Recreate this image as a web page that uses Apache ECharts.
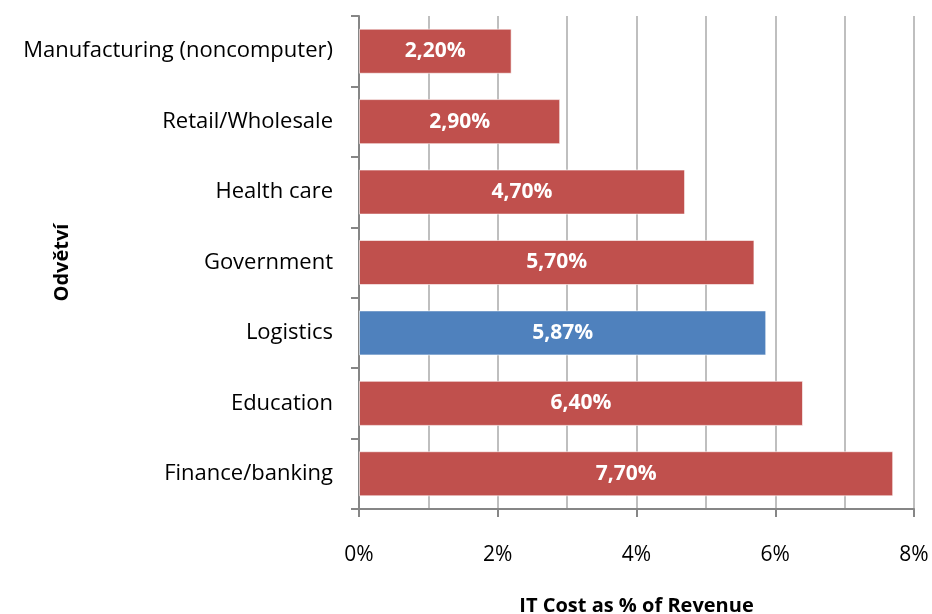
<!DOCTYPE html>
<html>
<head>
<meta charset="utf-8">
<script src="https://cdn.jsdelivr.net/npm/echarts@6/dist/echarts.min.js"></script>
<style>
  html, body { margin: 0; padding: 0; background: #fff; }
  #chart { width: 932px; height: 614px; }
</style>
</head>
<body>
<div id="chart"></div>
<script>
// Industries, top to bottom
const categories = [
  'Manufacturing (noncomputer)',
  'Retail/Wholesale',
  'Health care',
  'Government',
  'Logistics',
  'Education',
  'Finance/banking'
];
// IT cost as a percentage of revenue
const values = [2.20, 2.90, 4.70, 5.70, 5.87, 6.40, 7.70];
// The highlighted industry
const highlight = 'Logistics';
const xTicks = [0, 2, 4, 6, 8];

const RED = '#C0504D';
const BLUE = '#4F81BD';
const FONT = '"Open Sans", Lato, sans-serif';

const chart = echarts.init(document.getElementById('chart'), null, { renderer: 'canvas' });

chart.setOption({
  animation: false,
  grid: {
    left: 359, right: 18, top: 16, bottom: 105,
    containLabel: false,
    outerBoundsMode: 'none'
  },
  xAxis: {
    type: 'value',
    min: xTicks[0],
    max: xTicks[xTicks.length - 1],
    interval: xTicks[1] - xTicks[0],
    name: 'IT Cost as % of Revenue',
    nameLocation: 'middle',
    nameGap: 87,
    nameMoveOverlap: false,
    nameTextStyle: { fontFamily: FONT, fontSize: 20, fontWeight: 'bold', color: '#000' },
    axisLine: { show: true, lineStyle: { color: '#868686', width: 2 } },
    axisTick: { show: true, length: 8, lineStyle: { color: '#868686', width: 2 } },
    axisLabel: {
      margin: 36,
      fontFamily: FONT, fontSize: 21, color: '#000',
      formatter: v => v + '%'
    },
    splitLine: { show: true, lineStyle: { color: '#BFBFBF', width: 2 } },
    minorTick: { show: false, splitNumber: 2 },
    minorSplitLine: { show: true, lineStyle: { color: '#BFBFBF', width: 2 } }
  },
  yAxis: {
    type: 'category',
    data: categories,
    inverse: true,
    name: 'Odvětví',
    nameLocation: 'middle',
    nameGap: 287,
    nameMoveOverlap: false,
    nameRotate: 90,
    nameTextStyle: { fontFamily: FONT, fontSize: 20, fontWeight: 'bold', color: '#000' },
    axisLine: { show: true, lineStyle: { color: '#868686', width: 2 } },
    axisTick: { show: true, length: 8, alignWithLabel: false, lineStyle: { color: '#868686', width: 2 } },
    axisLabel: { margin: 26, padding: [6, 0, 0, 0], fontFamily: FONT, fontSize: 22, color: '#000' },
    splitLine: { show: false }
  },
  series: [{
    type: 'bar',
    data: values.map((v, i) => ({
      value: v,
      itemStyle: { color: categories[i] === highlight ? BLUE : RED }
    })),
    barCategoryGap: '36%',
    itemStyle: { borderColor: 'rgba(255,255,255,0.6)', borderWidth: 1 },
    label: {
      show: true,
      position: 'inside',
      padding: [4, 0, 0, 0],
      fontFamily: FONT,
      fontSize: 21,
      fontWeight: 'bold',
      color: '#fff',
      formatter: p => p.value.toFixed(2).replace('.', ',') + '%'
    }
  }]
});
</script>
</body>
</html>
